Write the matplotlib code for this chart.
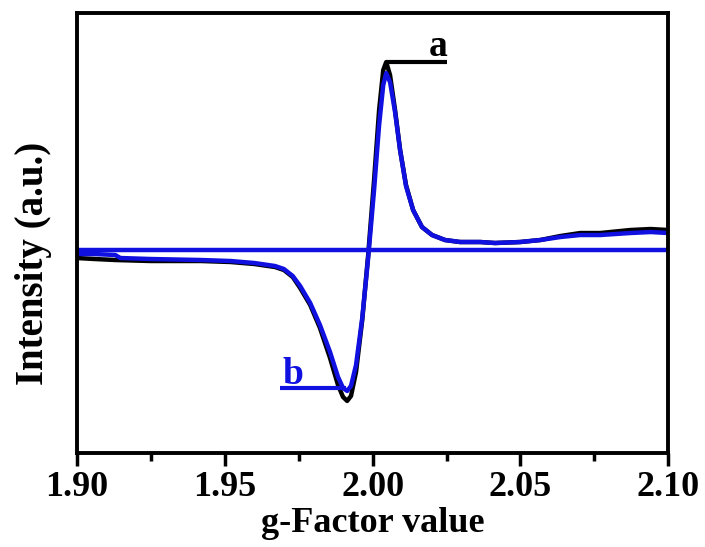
import matplotlib.pyplot as plt
import numpy as np

plt.rcParams['font.family'] = ['Liberation Serif', 'DejaVu Serif']
plt.rcParams['font.weight'] = 'bold'

# curve a (black)
g_a = [1.900, 1.906, 1.913, 1.925, 1.942, 1.952, 1.960, 1.967, 1.970, 1.973,
       1.9755, 1.9789, 1.9822, 1.9856, 1.9883, 1.9900, 1.9914, 1.9927, 1.9944,
       1.9965, 1.9985, 2.0005, 2.0022, 2.0036, 2.0046, 2.0059, 2.0076, 2.0093,
       2.0113, 2.0137, 2.0167, 2.0201, 2.0245, 2.0296, 2.0364, 2.0414, 2.0499,
       2.0567, 2.0635, 2.0702, 2.0770, 2.0871, 2.0940, 2.100]
int_a = [-0.8, -0.9, -1.0, -1.1, -1.1, -1.2, -1.4, -1.7, -2.0, -2.7,
         -3.8, -5.5, -7.8, -10.8, -13.5, -14.7, -15.1, -14.6, -12.2,
         -7.0, -0.5, 7.0, 14.0, 18.0, 18.8, 17.5, 14.0, 10.0,
         6.5, 4.0, 2.3, 1.5, 1.0, 0.8, 0.8, 0.7, 0.8,
         1.0, 1.4, 1.7, 1.7, 2.0, 2.1, 2.0]

# curve b (blue)
g_b = [1.900, 1.906, 1.913, 1.9147, 1.925, 1.942, 1.952, 1.960, 1.967, 1.970,
       1.973, 1.9755, 1.9789, 1.9822, 1.9856, 1.9883, 1.9900, 1.9914, 1.9927,
       1.9944, 1.9965, 1.9985, 2.0005, 2.0022, 2.0036, 2.0046, 2.0059, 2.0076,
       2.0093, 2.0113, 2.0137, 2.0167, 2.0201, 2.0245, 2.0296, 2.0364, 2.0414,
       2.0499, 2.0567, 2.0635, 2.0702, 2.0770, 2.0871, 2.0940, 2.100]
int_b = [-0.4, -0.4, -0.5, -0.8, -0.9, -1.0, -1.1, -1.3, -1.6, -1.9,
         -2.6, -3.6, -5.3, -7.5, -10.2, -12.7, -13.8, -14.1, -13.6,
         -11.5, -6.8, -0.8, 6.0, 12.5, 16.5, 17.7, 16.8, 13.8,
         10.0, 6.4, 4.0, 2.3, 1.5, 1.0, 0.8, 0.8, 0.7,
         0.8, 1.0, 1.3, 1.5, 1.5, 1.7, 1.8, 1.7]

# flat blue trace
g_flat = [1.90, 2.10]
int_flat = [0.0, 0.0]

blue = '#1010e0'

fig = plt.figure(figsize=(7.05, 5.47), dpi=100)
ax = fig.add_axes([0.109, 0.172, 0.839, 0.804])

ax.plot(g_a, int_a, color='black', lw=3.2)
ax.plot(g_flat, int_flat, color=blue, lw=3.2)
ax.plot(g_b, int_b, color=blue, lw=3.2)

# labels a / b with leader lines
ax.plot([g_a[24], 2.0252], [max(int_a), max(int_a)], color='black', lw=3,
        solid_capstyle='butt')
ax.text(2.0222, 19.4, 'a', fontsize=27, fontweight='bold', color='black',
        ha='center', va='baseline')
ax.plot([1.9687, 1.991], [-13.8, -13.8], color=blue, lw=3,
        solid_capstyle='butt')
ax.text(1.9731, -13.4, 'b', fontsize=27, fontweight='bold', color=blue,
        ha='center', va='baseline')

ax.set_xlim(1.90, 2.10)
ax.set_ylim(-20.3, 23.7)
ax.set_xticks([1.90, 1.95, 2.00, 2.05, 2.10])
ax.set_xticks(np.arange(1.925, 2.1, 0.05), minor=True)
ax.set_xticklabels(['1.90', '1.95', '2.00', '2.05', '2.10'])
ax.set_yticks([])
ax.tick_params(axis='x', which='major', direction='out', length=9, width=2.5,
               labelsize=26, pad=4)
ax.tick_params(axis='x', which='minor', direction='out', length=6, width=2.5)
for s in ax.spines.values():
    s.set_linewidth(2.8)

ax.set_xlabel('g-Factor value', fontsize=26, fontweight='bold', labelpad=2)
fig.text(34 / 705, 1 - 263 / 547, 'Intensity (a.u.)', fontsize=28,
         fontweight='bold', rotation=90, ha='center', va='center')

fig.savefig('out.png', dpi=100)
